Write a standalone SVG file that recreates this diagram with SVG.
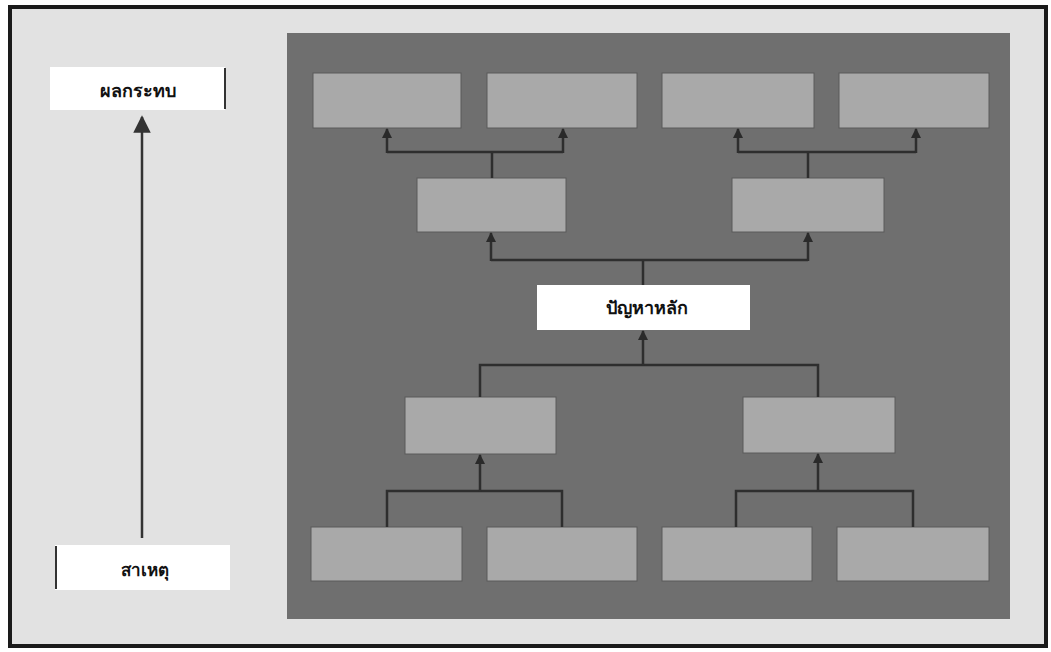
<svg xmlns="http://www.w3.org/2000/svg" width="1051" height="652" viewBox="0 0 1051 652">
<defs>
<marker id="ah" viewBox="0 0 10 10" refX="9" refY="5" markerWidth="4" markerHeight="4" orient="auto" markerUnits="strokeWidth">
<path d="M0,0 L10,5 L0,10 z" fill="#2a2a2a"/>
</marker>
<marker id="ahBig" viewBox="0 0 10 10" refX="9" refY="5" markerWidth="7" markerHeight="8" orient="auto" markerUnits="strokeWidth">
<path d="M0,0 L10,5 L0,10 z" fill="#333"/>
</marker>
</defs>
<style>
.box{fill:#a9a9a9;stroke:#5a5a5a;stroke-width:1}
.white{fill:#ffffff}
.conn{fill:none;stroke:#2e2e2e;stroke-width:2.5}
.lbl{font-family:"Noto Sans","DejaVu Sans",sans-serif;font-weight:bold;fill:#111;text-anchor:middle;dominant-baseline:central}
</style>
<rect x="0" y="0" width="1051" height="652" fill="#ffffff"/>
<rect x="10" y="7" width="1036" height="639" fill="#e2e2e2" stroke="#1a1a1a" stroke-width="4"/>
<rect x="287" y="33" width="723" height="586" fill="#6f6f6f"/>

<g id="impact">
<rect x="50" y="67" width="175" height="43" class="white"/>
<line x1="225" y1="68" x2="225" y2="109" stroke="#333" stroke-width="2"/>
<text x="138" y="90" class="lbl" font-size="18">ผลกระทบ</text>
</g>
<g id="cause">
<rect x="55" y="545" width="175" height="45" class="white"/>
<line x1="56" y1="546" x2="56" y2="589" stroke="#333" stroke-width="2"/>
<text x="145" y="569" class="lbl" font-size="17">สาเหตุ</text>
</g>

<g id="t1"><rect x="313" y="73" width="148" height="55" class="box"/></g>
<g id="t2"><rect x="487" y="73" width="150" height="55" class="box"/></g>
<g id="t3"><rect x="662" y="73" width="152" height="55" class="box"/></g>
<g id="t4"><rect x="839" y="73" width="150" height="55" class="box"/></g>

<g id="m1"><rect x="417" y="178" width="149" height="54" class="box"/></g>
<g id="m2"><rect x="732" y="178" width="152" height="54" class="box"/></g>

<g id="core">
<rect x="537" y="285" width="213" height="45" class="white"/>
<text x="647" y="307" class="lbl" font-size="18">ปัญหาหลัก</text>
</g>

<g id="c1"><rect x="405" y="397" width="151" height="57" class="box"/></g>
<g id="c2"><rect x="743" y="397" width="152" height="56" class="box"/></g>

<g id="b1"><rect x="311" y="527" width="151" height="54" class="box"/></g>
<g id="b2"><rect x="487" y="527" width="150" height="54" class="box"/></g>
<g id="b3"><rect x="662" y="527" width="150" height="54" class="box"/></g>
<g id="b4"><rect x="837" y="527" width="152" height="54" class="box"/></g>

<g id="connectors">
<line x1="142" y1="538" x2="142" y2="117" stroke="#333" stroke-width="2.5" marker-end="url(#ahBig)"/>
<line x1="492" y1="178" x2="492" y2="152" class="conn"/>
<polyline points="387,152 563,152" class="conn"/>
<line x1="387" y1="153" x2="387" y2="129" class="conn" marker-end="url(#ah)"/>
<line x1="563" y1="153" x2="563" y2="129" class="conn" marker-end="url(#ah)"/>
<line x1="808" y1="178" x2="808" y2="152" class="conn"/>
<polyline points="738,152 916,152" class="conn"/>
<line x1="738" y1="153" x2="738" y2="129" class="conn" marker-end="url(#ah)"/>
<line x1="916" y1="153" x2="916" y2="129" class="conn" marker-end="url(#ah)"/>
<line x1="643" y1="285" x2="643" y2="260" class="conn"/>
<polyline points="491,260 808,260" class="conn"/>
<line x1="491" y1="261" x2="491" y2="233" class="conn" marker-end="url(#ah)"/>
<line x1="808" y1="261" x2="808" y2="233" class="conn" marker-end="url(#ah)"/>
<polyline points="480,397 480,365 818,365 818,397" class="conn"/>
<line x1="643" y1="366" x2="643" y2="331" class="conn" marker-end="url(#ah)"/>
<polyline points="387,527 387,491 562,491 562,527" class="conn"/>
<line x1="480" y1="492" x2="480" y2="455" class="conn" marker-end="url(#ah)"/>
<polyline points="736,527 736,491 913,491 913,527" class="conn"/>
<line x1="818" y1="492" x2="818" y2="454" class="conn" marker-end="url(#ah)"/>
</g>
</svg>
